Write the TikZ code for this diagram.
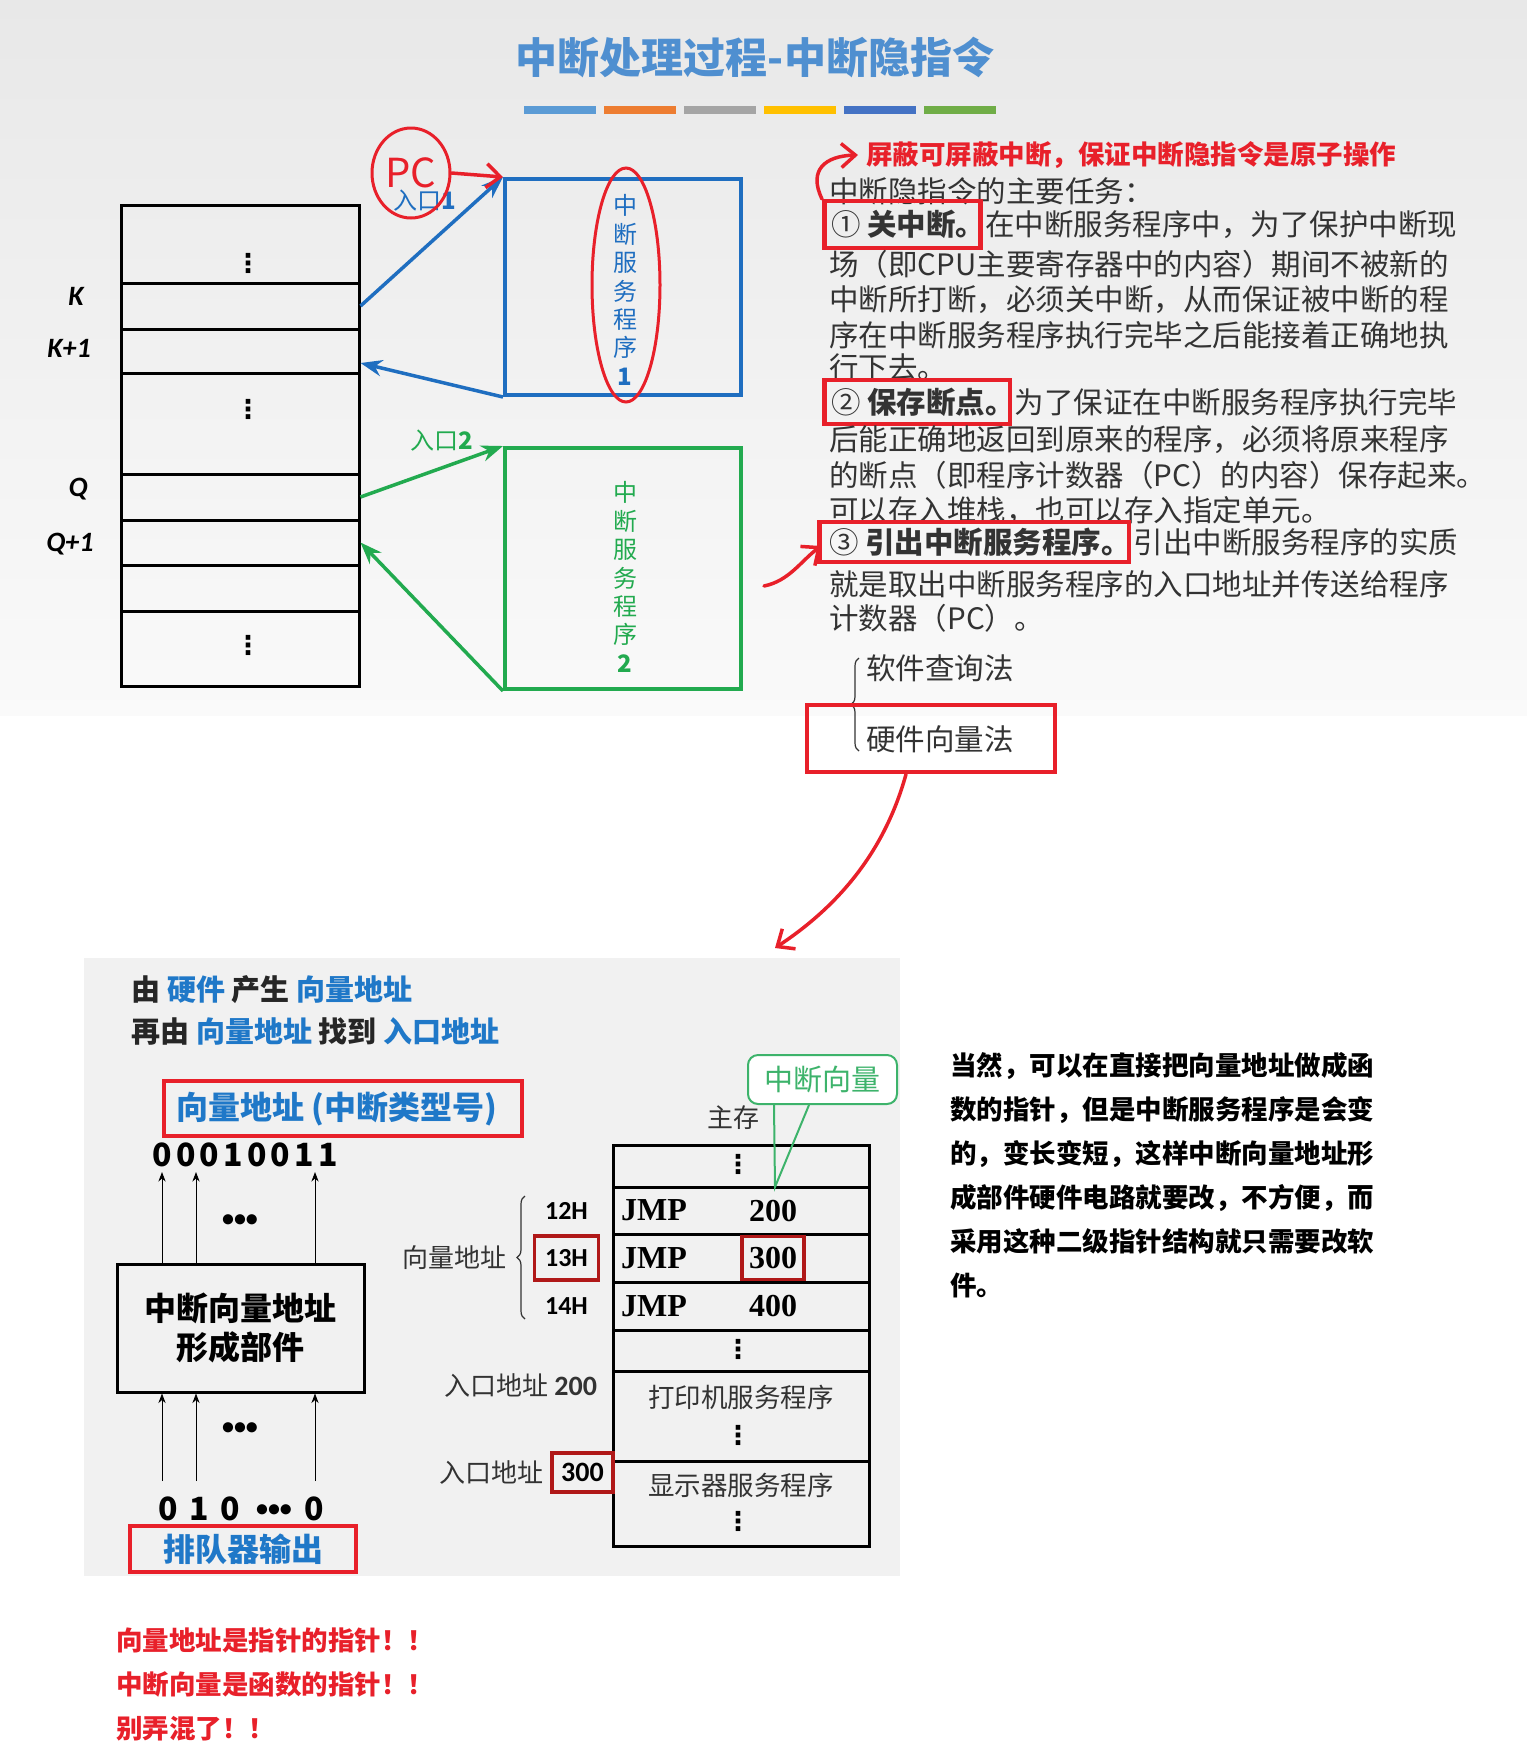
\documentclass[tikz,border=0pt]{standalone}
\usepackage{fontspec}
\setmainfont{Noto Sans CJK SC}
\newfontfamily\latfont{Carlito}
\newfontfamily\romfont{Liberation Serif}
\newfontfamily\symfont{DejaVu Sans}
\usetikzlibrary{arrows.meta,shapes.geometric,decorations.pathreplacing}
\newcommand\fsz[2]{\fontsize{#1}{#2}\selectfont}
\definecolor{titleblue}{HTML}{4F8FD0}
\definecolor{svcblue}{HTML}{1F6EC0}
\definecolor{svcgreen}{HTML}{22AA4F}
\definecolor{pen}{HTML}{E8202A}
\definecolor{darkred}{HTML}{B01818}
\definecolor{textgray}{HTML}{333333}
\definecolor{lowblue}{HTML}{1F78C8}
\definecolor{callgreen}{HTML}{3DB36B}
\definecolor{panelgray}{HTML}{F1F1F1}
\definecolor{barA}{HTML}{5B9BD5}
\definecolor{barB}{HTML}{ED7D31}
\definecolor{barC}{HTML}{A5A5A5}
\definecolor{barD}{HTML}{FFC000}
\definecolor{barE}{HTML}{4472C4}
\definecolor{barF}{HTML}{70AD47}

\begin{document}
\begin{tikzpicture}[x=0.5pt,y=-0.5pt,>=Stealth,
  memcell/.style={draw, line width=1.5pt, minimum width=119pt, inner sep=0pt},
  memrow/.style={draw, line width=1.5pt, minimum width=128pt, inner sep=0pt},
  vdot/.style={inner sep=0pt, font=\symfont\bfseries\fsz{13}{13}},
  celllabel/.style={font=\latfont\bfseries\itshape\fsz{14}{14}},
  bodytxt/.style={anchor=west, inner sep=0pt, text=textgray, font=\fsz{14.75}{18}},
  hlbox/.style={draw=pen, line width=2.25pt, anchor=west, inner xsep=3.5pt, inner ysep=0pt, text=textgray, font=\fsz{14.75}{18}},
  handarrow/.style={pen, line width=1.75pt, line cap=round, -{Straight Barb[length=7pt,width=12pt]}},
  jmp/.style={font=\romfont\bfseries\fsz{16}{16}},
  addr/.style={font=\latfont\bfseries\fsz{13}{14}},
  small/.style={font=\fsz{13}{14}, text=textgray}]
\useasboundingbox (0,0) rectangle (1527,1753);
\fill[white] (0,0) rectangle (1527,1753);
\shade[top color=black!9, bottom color=black!2] (0,0) rectangle (1527,715);
\fill[panelgray] (84,958) rectangle (900,1576);

% title
\node[text=titleblue, font=\fsz{21}{21}\bfseries] (title) at (755,58) {中断处理过程-中断隐指令};
\fill[barA] (524,106) rectangle +(72,8);
\fill[barB] (604,106) rectangle +(72,8);
\fill[barC] (684,106) rectangle +(72,8);
\fill[barD] (764,106) rectangle +(72,8);
\fill[barE] (844,106) rectangle +(72,8);
\fill[barF] (924,106) rectangle +(72,8);

% memory on the left
\node[memcell, minimum height=39pt] (r1) at (240,244) {};
\node[memcell, minimum height=23pt] (r2) at (240,306) {};
\node[memcell, minimum height=22pt] (r3) at (240,351) {};
\node[memcell, minimum height=50.5pt] (r4) at (240,423.5) {};
\node[memcell, minimum height=23pt] (r5) at (240,497) {};
\node[memcell, minimum height=22.5pt] (r6) at (240,542.5) {};
\node[memcell, minimum height=23pt] (r7) at (240,588) {};
\node[memcell, minimum height=37.5pt] (r8) at (240,648.5) {};
\node[vdot] (d1) at (248,263) {⋮};
\node[vdot] (d4) at (248,409) {⋮};
\node[vdot] (d8) at (248,645) {⋮};

\node[celllabel] (lk) at (76,296) {K};
\node[celllabel] (lk1) at (69,348) {K+1};
\node[celllabel] (lq) at (78,489) {Q};
\node[celllabel] (lq1) at (70,544) {Q+1};

% service routines
\node[draw=svcblue, line width=2pt, minimum width=118pt, minimum height=108pt] (svc1) at (623,287) {};
\node[text=svcblue, align=center, font=\fsz{12}{14.2}] (svc1txt) at (625,290) {中\\断\\服\\务\\程\\序\\ \textbf{1}};
\node[draw=svcgreen, line width=2pt, minimum width=118pt, minimum height=120.5pt] (svc2) at (623,568.5) {};
\node[text=svcgreen, align=center, font=\fsz{12}{14.2}] (svc2txt) at (625,577) {中\\断\\服\\务\\程\\序\\ \textbf{2}};

\draw[->, svcblue, line width=1.75pt] (r2.east) -- (svc1.north west);
\draw[->, svcblue, line width=1.75pt] (svc1.south west) -- ([yshift=-6pt]r3.east);
\draw[->, svcgreen, line width=1.75pt] (r5.east) -- (svc2.north west);
\draw[->, svcgreen, line width=1.75pt] (svc2.south west) -- (r6.east);

\node[text=svcblue, font=\fsz{12}{12}] (in1) at (425,201) {入口\textbf{1}};
\node[text=svcgreen, font=\fsz{12}{12}] (in2) at (442,441) {入口\textbf{2}};

% pen marks
\node[draw=pen, line width=1.5pt, ellipse, minimum width=39pt, minimum height=45pt, inner sep=0pt, text=pen, font=\fsz{20}{20}] (pc) at (411,173) {PC};
\draw[handarrow] (pc.east) -- (svc1.north west);
\node[draw=pen, line width=1.5pt, ellipse, minimum width=34pt, minimum height=117pt] (oval) at (626,285) {};

% tasks of the hidden instruction
\node[anchor=west, inner sep=0pt, text=pen, font=\fsz{13.25}{14}\bfseries] (hd) at (866,155) {屏蔽可屏蔽中断，保证中断隐指令是原子操作};
\node[bodytxt] (t1) at (829,191) {中断隐指令的主要任务：};
\draw[handarrow] ([xshift=-3.5pt,yshift=-4pt]t1.west) .. controls +(-14,-29) and +(-33,1) .. ([xshift=-4pt]hd.west);
\node[hlbox, minimum height=23.5pt] (k1) at (822,224.5) {① \textbf{关中断。}\kern-0.4em};
\node[bodytxt, anchor=base west, xshift=1pt] (t2) at (k1.base east) {在中断服务程序中，为了保护中断现};
\node[bodytxt] (t3) at (829,264) {场（即CPU主要寄存器中的内容）期间不被新的};
\node[bodytxt] (t4) at (829,300) {中断所打断，必须关中断，从而保证被中断的程};
\node[bodytxt] (t5) at (829,335) {序在中断服务程序执行完毕之后能接着正确地执};
\node[bodytxt] (t6) at (829,367) {行下去。};
\node[hlbox, minimum height=22pt] (k2) at (822,402) {② \textbf{保存断点。}\kern-0.4em};
\node[bodytxt, anchor=base west, xshift=1pt] (t7) at (k2.base east) {为了保证在中断服务程序执行完毕};
\node[bodytxt] (t8) at (829,440) {后能正确地返回到原来的程序，必须将原来程序};
\node[bodytxt] (t9) at (829,475) {的断点（即程序计数器（PC）的内容）保存起来。};
\node[bodytxt] (t10) at (829,511) {可以存入堆栈，也可以存入指定单元。};
\node[hlbox, minimum height=20pt, inner xsep=5pt] (k3) at (817,542) {③ \textbf{引出中断服务程序。}\kern-0.4em};
\node[bodytxt, anchor=base west, xshift=1pt] (t11) at (k3.base east) {引出中断服务程序的实质};
\node[bodytxt] (t12) at (829,584) {就是取出中断服务程序的入口地址并传送给程序};
\node[bodytxt] (t13) at (829,618) {计数器（PC）。};
\coordinate (scr) at (764,586);
\draw[handarrow] (scr) .. controls +(25,-5) and +(-20,15) .. ([xshift=2pt,yshift=-2pt]k3.west);

\node[bodytxt] (sw) at (866,668) {软件查询法};
\node[bodytxt] (hw) at (866,739) {硬件向量法};
\draw[decorate, decoration={brace, amplitude=4pt}, textgray, line width=0.6pt]
  ([xshift=-3.5pt,yshift=-6pt]hw.west) -- ([xshift=-3.5pt,yshift=5pt]sw.west);
\node[draw=pen, line width=2.25pt, minimum width=124pt, minimum height=33.5pt] (hwbox) at (931,738.5) {};
\coordinate (panelin) at (775,948);
\draw[handarrow] ([xshift=-12.5pt]hwbox.south) .. controls +(-21,76) and +(65,-43) .. (panelin);

% vector address panel
\node[anchor=west, inner sep=0pt, font=\fsz{14.5}{16}\bfseries, text=black!85] (l1) at (131,990)
  {由 \textcolor{lowblue}{硬件} 产生 \textcolor{lowblue}{向量地址}};
\node[anchor=west, inner sep=0pt, font=\fsz{14.5}{16}\bfseries, text=black!85] (l2) at (131,1031)
  {再由 \textcolor{lowblue}{向量地址} 找到 \textcolor{lowblue}{入口地址}};
\node[draw=pen, line width=2.25pt, minimum width=179pt, minimum height=27.5pt, text=lowblue, font=\fsz{16}{16}\bfseries] (va) at (343,1108.5) {向量地址 (中断类型号)\hspace*{6pt}};
\node[font=\fsz{16}{16}\bfseries\addfontfeatures{LetterSpace=13}] (bits) at (245,1155) {00010011};
\node[draw, line width=1.5pt, minimum width=123.5pt, minimum height=64pt, align=center, font=\fsz{16}{19.5}\bfseries] (vbox) at (240.5,1328) {中断向量地址\\形成部件};
\coordinate (up1) at (162,1172);
\coordinate (up2) at (196,1172);
\coordinate (up3) at (315,1172);
\draw[->] (vbox.north -| up1) -- (up1);
\draw[->] (vbox.north -| up2) -- (up2);
\draw[->] (vbox.north -| up3) -- (up3);
\node[font=\latfont\bfseries\fsz{12}{12}] (dots1) at (240,1221) {•••};
\coordinate (dn1) at (162,1481);
\coordinate (dn2) at (196,1481);
\coordinate (dn3) at (315,1481);
\draw[->] (dn1) -- (vbox.south -| dn1);
\draw[->] (dn2) -- (vbox.south -| dn2);
\draw[->] (dn3) -- (vbox.south -| dn3);
\node[font=\latfont\bfseries\fsz{12}{12}] (dots2) at (240,1429) {•••};
\node[font=\fsz{16}{16}\bfseries] (q1) at (168,1509) {0};
\node[font=\fsz{16}{16}\bfseries] (q2) at (199,1509) {1};
\node[font=\fsz{16}{16}\bfseries] (q3) at (230,1509) {0};
\node[font=\latfont\bfseries\fsz{12}{12}] (qd) at (274,1511) {•••};
\node[font=\fsz{16}{16}\bfseries] (q4) at (314,1509) {0};
\node[draw=pen, line width=2.25pt, minimum width=113pt, minimum height=23pt, text=lowblue, font=\fsz{16}{16}\bfseries] (queue) at (243,1549) {排队器输出};

% main memory with the vectors
\node[small] (mainmem) at (733,1118) {主存};
\node[memrow, minimum height=21pt] (m0) at (741,1166) {};
\node[memrow, minimum height=23.5pt] (m1) at (741,1210.5) {};
\node[memrow, minimum height=24pt] (m2) at (741,1258) {};
\node[memrow, minimum height=24pt] (m3) at (741,1306) {};
\node[memrow, minimum height=20.5pt] (m4) at (741,1350.5) {};
\node[memrow, minimum height=45pt] (m5) at (741,1416) {};
\node[memrow, minimum height=42.5pt] (m6) at (741,1503.5) {};
\node[vdot] (md0) at (738,1164) {⋮};
\node[vdot] (md4) at (738,1349) {⋮};

\node[jmp] (j1) at ([xshift=-43.5pt]m1.center) {JMP};
\node[jmp] (j2) at ([xshift=-43.5pt]m2.center) {JMP};
\node[jmp] (j3) at ([xshift=-43.5pt]m3.center) {JMP};
\node[jmp] (n1) at ([xshift=16pt]m1.center) {200};
\node[jmp, draw=darkred, line width=1.75pt, minimum width=31pt, minimum height=21.5pt, inner sep=0pt] (n2) at ([xshift=16pt]m2.center) {300};
\node[jmp] (n3) at ([xshift=16pt]m3.center) {400};
\node[font=\fsz{13.25}{14}, text=textgray] (prn) at (741,1397) {打印机服务程序};
\node[vdot] (prndots) at (738,1435) {⋮};
\node[font=\fsz{13.25}{14}, text=textgray] (disp) at (741,1485) {显示器服务程序};
\node[vdot] (dispdots) at (738,1521) {⋮};

\node[addr] (a12) at ([xshift=-22.5pt]m1.west) {12H};
\node[addr, draw=darkred, line width=1.75pt, minimum width=32pt, minimum height=22pt, inner sep=0pt] (a13) at ([xshift=-22.5pt]m2.west) {13H};
\node[addr] (a14) at ([xshift=-22.5pt]m3.west) {14H};
\coordinate (brtop) at (525,1196);
\coordinate (brbot) at (525,1319);
\draw[decorate, decoration={brace, amplitude=4pt}, textgray, line width=0.6pt] (brbot) -- (brtop);
\node[small, anchor=east] (vlabel) at (514,1258) {向量地址};

\node[small, anchor=east] (e200) at (604,1386) {入口地址 {\latfont\bfseries\fsz{14}{14}200}};
\node[addr, draw=darkred, line width=1.75pt, minimum width=30.5pt, minimum height=19.5pt, inner sep=0pt, font=\latfont\bfseries\fsz{14}{14}] (e300) at (582.5,1472.5) {300};
\node[small, anchor=east] (e300l) at (e300.west) {入口地址};

\node[draw=callgreen, line width=1pt, rounded corners=5pt, fill=white, minimum width=74.5pt, minimum height=24.5pt, text=callgreen, font=\fsz{14.5}{15}] (cv) at (822.5,1079.5) {中断向量};
\coordinate (cvtip) at (775,1187);
\draw[callgreen, line width=1pt] ([xshift=13.5pt]cv.south west) -- (cvtip) -- ([xshift=31pt]cv.south west);

% notes
\node[anchor=north west, align=left, inner sep=0pt, font=\fsz{13.25}{22}\bfseries] (note) at (950,1052)
  {当然，可以在直接把向量地址做成函\\数的指针，但是中断服务程序是会变\\的，变长变短，这样中断向量地址形\\成部件硬件电路就要改，不方便，而\\采用这种二级指针结构就只需要改软\\件。};
\node[anchor=north west, align=left, inner sep=0pt, text=pen, font=\fsz{13.25}{22}\bfseries] (warn) at (116,1627)
  {向量地址是指针的指针！！\\中断向量是函数的指针！！\\别弄混了！！};
\end{tikzpicture}
\end{document}
